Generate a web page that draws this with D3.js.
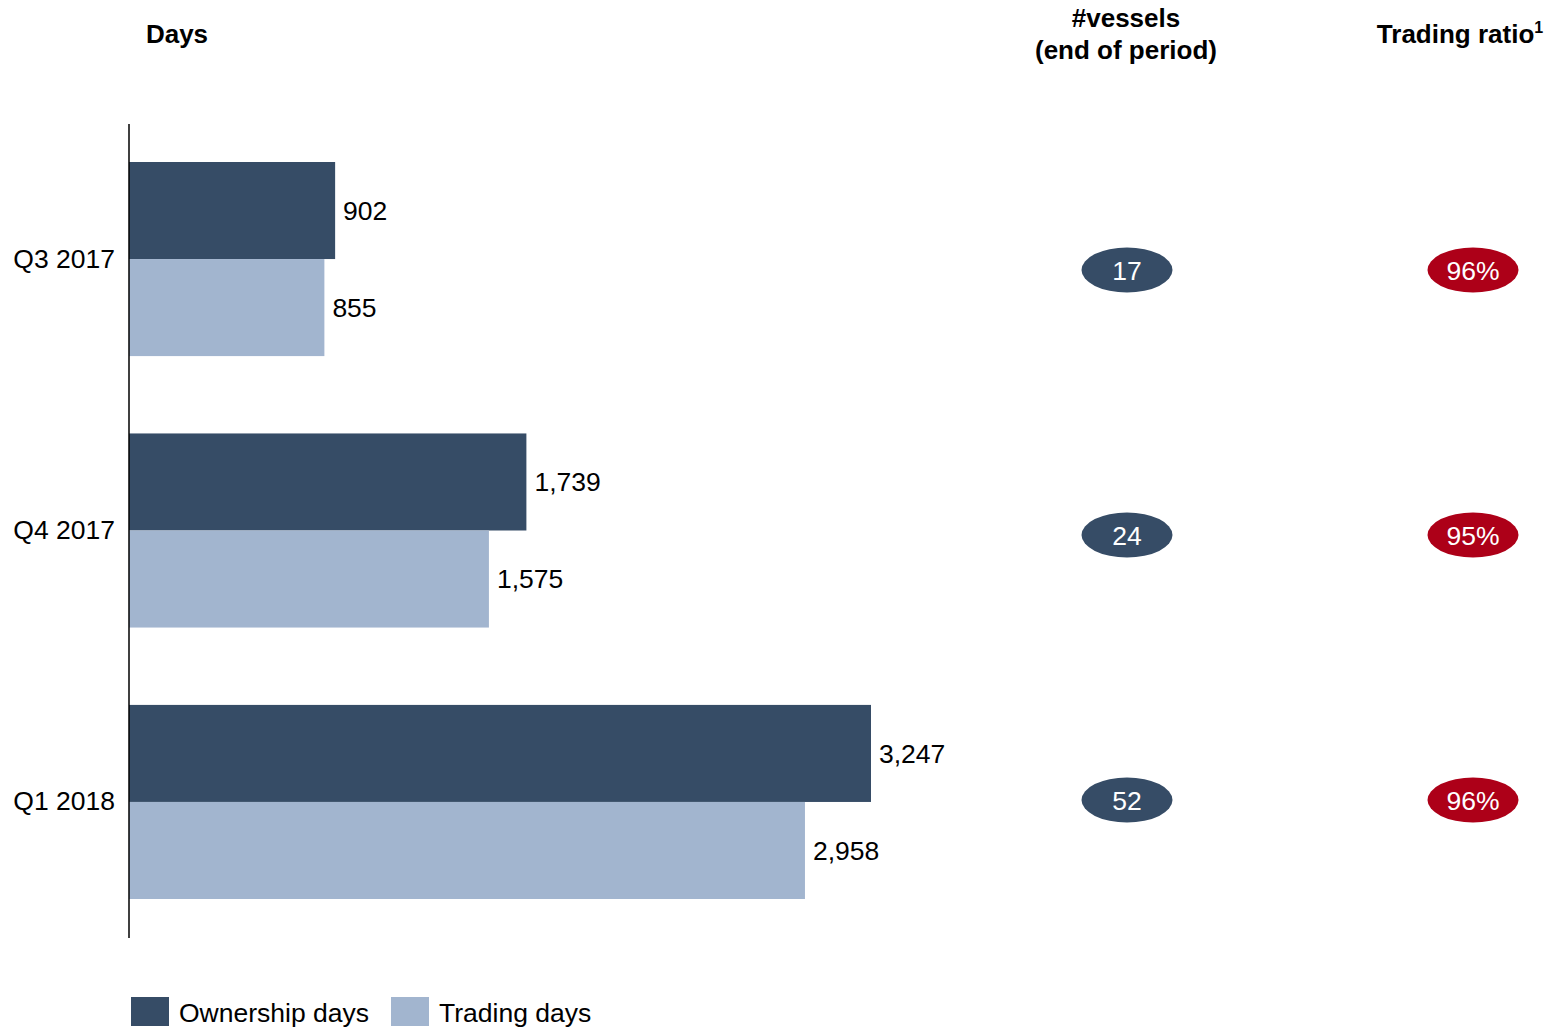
<!DOCTYPE html>
<html>
<head>
<meta charset="utf-8">
<script src="https://cdn.jsdelivr.net/npm/d3@7"></script>
<style>
  html, body { margin: 0; padding: 0; background: #fff; }
  svg { display: block; font-family: "Liberation Sans", Arial, sans-serif; }
</style>
</head>
<body>
<svg id="chart" width="1553" height="1031"></svg>
<script>
// Quarterly fleet days, vessel count and trading ratio
const quarters = ["Q3 2017", "Q4 2017", "Q1 2018"];
const ownershipDays = [902, 1739, 3247];
const tradingDays = [855, 1575, 2958];
const vessels = [17, 24, 52];
const tradingRatio = [96, 95, 96];
const seriesNames = ["Ownership days", "Trading days"];

const colors = { ownership: "#364c66", trading: "#a2b5cf", ratio: "#ad0018" };
const fontSize = 26.5;
const headSize = 26;

const svg = d3.select("#chart");

const x = d3.scaleLinear().domain([0, 3247]).range([129, 871]);
const y = d3.scaleBand().domain(quarters).range([162, 899]).paddingInner(0.285).paddingOuter(0);
const sub = d3.scaleBand().domain(["own", "trade"]).range([0, y.bandwidth()]);
const badgeY = d3.scalePoint().domain(quarters).range([270, 800]);

const rows = quarters.map((q, i) => ({
  q, own: ownershipDays[i], trade: tradingDays[i], vessels: vessels[i], ratio: tradingRatio[i]
}));

// Column headers
const headers = svg.append("g").attr("font-weight", "bold").attr("font-size", headSize)
  .attr("text-anchor", "middle").attr("fill", "#000");
headers.append("text").attr("x", 177).attr("y", 43).text("Days");
headers.append("text").attr("x", 1126).attr("y", 27).text("#vessels");
headers.append("text").attr("x", 1126).attr("y", 59).text("(end of period)");
const tr = headers.append("text").attr("x", 1460).attr("y", 43);
tr.append("tspan").text("Trading ratio");
tr.append("tspan").attr("font-size", 16).attr("dy", -10).text("1");

// Bars
const groups = svg.append("g").selectAll("g").data(rows).join("g")
  .attr("transform", d => `translate(0,${y(d.q)})`);

const bars = [
  { key: "own", color: colors.ownership },
  { key: "trade", color: colors.trading }
];
bars.forEach(b => {
  groups.append("rect")
    .attr("x", x(0))
    .attr("y", sub(b.key))
    .attr("width", d => x(d[b.key]) - x(0))
    .attr("height", sub.bandwidth())
    .attr("fill", b.color);
  groups.append("text")
    .attr("x", d => x(d[b.key]) + 8)
    .attr("y", sub(b.key) + sub.bandwidth() / 2)
    .attr("dy", "0.35em")
    .attr("font-size", fontSize)
    .attr("fill", "#000")
    .text(d => d3.format(",")(d[b.key]));
});

// Category axis
const axis = svg.append("g").attr("transform", `translate(${x(0)},0)`)
  .call(d3.axisLeft(y).tickSize(0).tickPadding(14));
axis.select(".domain").remove();
axis.selectAll("text").attr("font-size", fontSize).attr("fill", "#000")
  .attr("font-family", "Liberation Sans, Arial, sans-serif");
svg.append("line")
  .attr("x1", x(0)).attr("x2", x(0))
  .attr("y1", 124).attr("y2", 938)
  .attr("stroke", "#000").attr("stroke-width", 1.5);

// Vessel count and trading ratio badges
const badges = [
  { cx: 1127, color: colors.ownership, label: d => String(d.vessels) },
  { cx: 1473, color: colors.ratio, label: d => d.ratio + "%" }
];
badges.forEach(b => {
  const g = svg.append("g").selectAll("g").data(rows).join("g")
    .attr("transform", d => `translate(${b.cx},${badgeY(d.q)})`);
  g.append("ellipse").attr("rx", 45.5).attr("ry", 22.5).attr("fill", b.color);
  g.append("text").attr("text-anchor", "middle").attr("dy", "0.36em")
    .attr("font-size", fontSize).attr("fill", "#fff").text(b.label);
});

// Legend
const legend = svg.append("g").attr("transform", "translate(131,997)");
const legendX = [0, 260];
seriesNames.forEach((name, i) => {
  const g = legend.append("g").attr("transform", `translate(${legendX[i]},0)`);
  g.append("rect").attr("width", 38).attr("height", 29)
    .attr("fill", i === 0 ? colors.ownership : colors.trading);
  g.append("text").attr("x", 48).attr("y", 16).attr("dy", "0.35em")
    .attr("font-size", fontSize).attr("fill", "#000").text(name);
});
</script>
</body>
</html>
